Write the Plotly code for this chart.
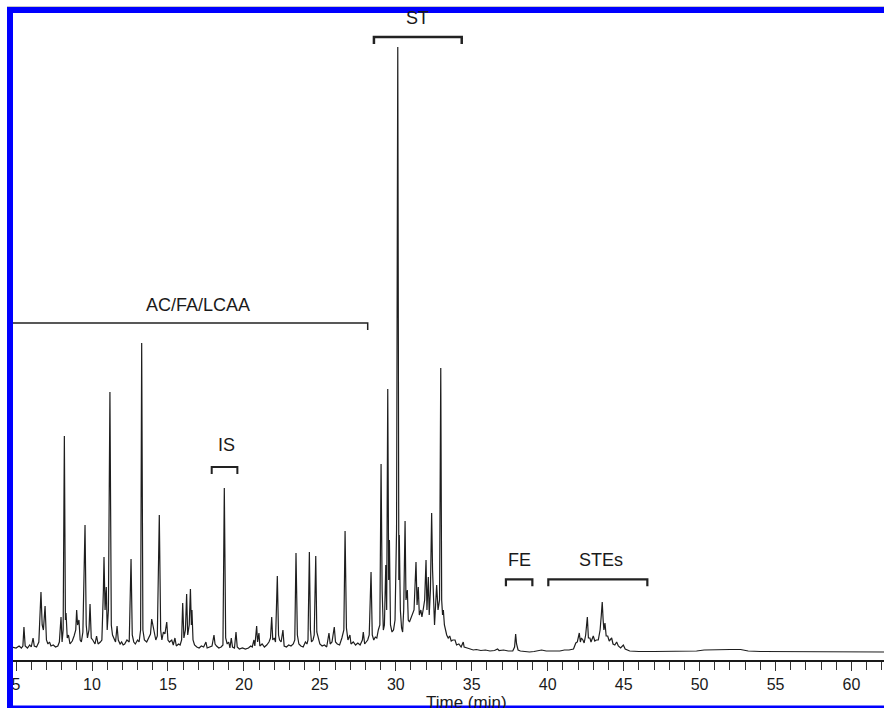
import plotly.graph_objects as go

# Chromatogram trace (retention time in min, detector response, arbitrary units)
time_min = [
    4.73, 5.0, 5.2, 5.35, 5.45, 5.52, 5.6, 5.75, 5.9, 6.0, 6.12, 6.2, 6.35, 6.5, 6.64, 6.72, 6.8, 6.91, 7.0, 7.1,
    7.2, 7.3, 7.45, 7.6, 7.75, 7.85, 7.96, 8.03, 8.1, 8.18, 8.25, 8.29, 8.37, 8.45, 8.55, 8.7, 8.82, 8.93, 8.99, 9.05,
    9.14, 9.22, 9.3, 9.4, 9.54, 9.62, 9.7, 9.8, 9.87, 9.95, 10.05, 10.2, 10.3, 10.4, 10.55, 10.65, 10.75, 10.79, 10.86, 10.94,
    11.0, 11.08, 11.18, 11.27, 11.35, 11.45, 11.55, 11.65, 11.73, 11.85, 11.95, 12.05, 12.15, 12.3, 12.45, 12.57, 12.65, 12.75, 12.85, 13.0,
    13.1, 13.2, 13.27, 13.35, 13.45, 13.6, 13.75, 13.85, 13.93, 14.0, 14.1, 14.2, 14.3, 14.43, 14.52, 14.6, 14.7, 14.8, 14.92, 15.0,
    15.1, 15.25, 15.35, 15.46, 15.55, 15.7, 15.8, 15.9, 15.97, 16.05, 16.15, 16.23, 16.3, 16.4, 16.48, 16.54, 16.58, 16.65, 16.75, 16.9,
    17.05, 17.2, 17.35, 17.5, 17.58, 17.75, 17.9, 18.03, 18.1, 18.2, 18.35, 18.5, 18.62, 18.71, 18.8, 18.9, 19.0, 19.08, 19.17, 19.25,
    19.38, 19.48, 19.56, 19.7, 19.9, 20.1, 20.3, 20.45, 20.55, 20.66, 20.72, 20.84, 20.9, 20.99, 21.05, 21.2, 21.35, 21.5, 21.65, 21.75,
    21.83, 21.9, 22.0, 22.08, 22.2, 22.28, 22.35, 22.45, 22.57, 22.65, 22.8, 22.95, 23.1, 23.25, 23.35, 23.43, 23.52, 23.62, 23.75, 23.9,
    24.05, 24.15, 24.22, 24.31, 24.38, 24.45, 24.55, 24.63, 24.73, 24.8, 24.9, 25.0, 25.15, 25.3, 25.45, 25.55, 25.6, 25.68, 25.8, 25.95,
    26.03, 26.15, 26.3, 26.45, 26.58, 26.66, 26.75, 26.85, 26.98, 27.05, 27.2, 27.35, 27.5, 27.65, 27.8, 27.86, 27.95, 28.05, 28.15, 28.25,
    28.37, 28.45, 28.55, 28.65, 28.75, 28.85, 28.95, 29.03, 29.1, 29.18, 29.25, 29.34, 29.4, 29.47, 29.53, 29.58, 29.65, 29.75, 29.85, 29.95,
    30.05, 30.13, 30.2, 30.23, 30.3, 30.38, 30.45, 30.52, 30.61, 30.67, 30.76, 30.82, 30.9, 31.0, 31.1, 31.2, 31.33, 31.4, 31.48, 31.55,
    31.65, 31.72, 31.82, 31.9, 31.99, 32.05, 32.14, 32.2, 32.28, 32.36, 32.42, 32.48, 32.55, 32.62, 32.69, 32.78, 32.88, 32.96, 33.02, 33.08,
    33.13, 33.2, 33.35, 33.45, 33.55, 33.65, 33.75, 33.9, 34.0, 34.15, 34.3, 34.44, 34.5, 34.7, 34.9, 35.1, 35.3, 35.6, 35.9, 36.2,
    36.5, 36.7, 36.8, 37.1, 37.4, 37.7, 37.82, 37.89, 37.95, 38.05, 38.2, 38.5, 38.8, 39.1, 39.3, 39.6, 39.9, 40.2, 40.5, 40.8,
    41.1, 41.4, 41.7, 41.85, 41.95, 42.08, 42.15, 42.22, 42.32, 42.4, 42.5, 42.61, 42.68, 42.78, 42.85, 43.0, 43.1, 43.2, 43.33, 43.45,
    43.53, 43.59, 43.65, 43.7, 43.77, 43.85, 43.95, 44.05, 44.21, 44.3, 44.42, 44.54, 44.65, 44.8, 44.98, 45.1, 45.4, 46.0, 47.0, 48.0,
    49.0, 49.8, 50.3, 51.0, 52.0, 52.7, 53.2, 54.0, 55.0, 56.0, 57.0, 58.0, 59.0, 60.0, 61.0, 62.14,
]
response = [
    3, 2, 4, 2, 4, 23, 4, 2, 5, 3, 12, 4, 3, 8, 58, 25, 20, 44, 10, 6,
    8, 4, 5, 3, 4, 8, 33, 8, 20, 214, 30, 37, 12, 15, 6, 9, 14, 20, 40, 25,
    30, 10, 8, 18, 125, 25, 12, 20, 46, 12, 10, 6, 14, 6, 8, 10, 60, 93, 40, 63,
    20, 40, 258, 25, 15, 12, 8, 24, 10, 6, 8, 5, 6, 10, 8, 91, 15, 8, 6, 10,
    8, 20, 307, 20, 10, 8, 12, 16, 31, 25, 20, 10, 14, 135, 20, 10, 18, 16, 28, 10,
    8, 10, 5, 12, 4, 6, 5, 10, 47, 12, 20, 56, 15, 25, 61, 25, 40, 10, 5, 3,
    2, 4, 3, 8, 2, 3, 4, 15, 6, 4, 2, 3, 5, 162, 12, 6, 8, 2, 12, 3,
    2, 18, 3, 1, 2, 1, 2, 4, 3, 10, 4, 24, 8, 17, 4, 6, 3, 5, 8, 12,
    33, 10, 12, 8, 74, 15, 10, 8, 20, 4, 3, 5, 4, 6, 10, 97, 15, 6, 4, 3,
    8, 6, 10, 98, 20, 8, 10, 15, 94, 18, 10, 6, 4, 5, 3, 10, 17, 6, 8, 23,
    8, 6, 5, 12, 20, 119, 22, 10, 15, 6, 8, 5, 7, 5, 10, 18, 6, 8, 10, 15,
    78, 15, 10, 13, 12, 20, 25, 186, 60, 20, 25, 85, 40, 261, 70, 110, 25, 18, 20, 30,
    120, 603, 70, 115, 40, 22, 18, 40, 129, 50, 60, 30, 28, 32, 35, 40, 88, 45, 63, 35,
    40, 33, 42, 50, 90, 40, 73, 35, 60, 137, 80, 40, 25, 45, 65, 40, 50, 282, 50, 35,
    40, 25, 15, 12, 14, 9, 10, 10, 5, 6, 3, 8, 3, 2, 1, 0, 0.5, -0.5, 0, -1,
    -0.5, 1, -0.5, 0, -1, -1, 3, 16, 6, 0, -1, -1.5, -2, -1.5, -1, 0, -1, -1, -0.5, -1,
    0, 0, 1, 7, 8, 17, 8, 12, 10, 7, 15, 33, 12, 12, 8, 14, 9, 10, 10, 20,
    35, 48, 30, 20, 27, 14, 14, 9, 12, 6, 5, 8, 4, 2, 5, 1, -1, -1.5, -1.5, -1.5,
    -1.5, -1, 0, 0.5, 0.5, 0.5, -1, -1.5, -1.5, -1.5, -1.5, -1.5, -2, -2, -2, -2,
]

# Group brackets: label, start time, end time, bracket level, label position
group_labels = ["AC/FA/LCAA", "IS", "ST", "FE", "STEs"]
group_start = [4.73, 17.88, 28.56, 37.25, 40.04]
group_end = [28.15, 19.57, 34.34, 38.99, 46.56]
group_level = [327, 183, 613, 70.7, 70.7]
group_text_x = [16.98, 18.87, 31.4, 38.13, 43.51]
group_text_level = [345, 205, 632, 90, 90]

fig = go.Figure()
fig.add_trace(go.Scatter(
    x=time_min, y=response, mode="lines",
    line=dict(color="#1e1e1e", width=1.2), showlegend=False, hoverinfo="skip",
))

font_family = "Liberation Sans, Arial, sans-serif"
widths = [1.5, 2, 2.5, 2.2, 2.2]
for lab, s, e, lev, tx, tl, w in zip(group_labels, group_start, group_end, group_level,
                                     group_text_x, group_text_level, widths):
    drop = 7
    fig.add_shape(type="path",
                  path=f"M {s},{lev - drop} L {s},{lev} L {e},{lev} L {e},{lev - drop}",
                  xref="x", yref="y", line=dict(color="#222222", width=w))
    fig.add_annotation(x=tx, y=tl, xref="x", yref="y", text=lab, showarrow=False,
                       font=dict(family=font_family, size=18, color="#1a1a1a"),
                       xanchor="center", yanchor="middle")

# Axis title
fig.add_annotation(x=(466 - 12) / 872, y=(660 - 702.5) / 660, xref="paper", yref="paper",
                   text="Time (min)", showarrow=False, xanchor="center", yanchor="middle",
                   font=dict(family=font_family, size=17, color="#1a1a1a"))

# Blue frame
blue = "#0000ff"
fig.add_shape(type="rect", xref="paper", yref="paper",
              x0=(7 - 12) / 872, x1=(13 - 12) / 872, y0=(660 - 708) / 660, y1=(660 - 7) / 660,
              fillcolor=blue, line=dict(width=0), layer="above")
fig.add_shape(type="rect", xref="paper", yref="paper",
              x0=(7 - 12) / 872, x1=1.0, y0=(660 - 13) / 660, y1=(660 - 7) / 660,
              fillcolor=blue, line=dict(width=0), layer="above")
fig.add_shape(type="rect", xref="paper", yref="paper",
              x0=(7 - 12) / 872, x1=1.0, y0=(660 - 708) / 660, y1=(660 - 705.5) / 660,
              fillcolor=blue, line=dict(width=0), layer="above")
fig.add_shape(type="line", xref="paper", yref="paper",
              x0=(7 - 12) / 872, x1=1.0, y0=(660 - 6.5) / 660, y1=(660 - 6.5) / 660,
              line=dict(color="#c8c8c8", width=1), layer="above")

fig.update_layout(
    width=884, height=708,
    margin=dict(l=12, r=0, t=0, b=48),
    paper_bgcolor="white", plot_bgcolor="white",
    showlegend=False,
    xaxis=dict(
        range=[4.733, 62.14], showgrid=False, zeroline=False,
        showline=True, linecolor="#1a1a1a", linewidth=1.6,
        ticks="outside", ticklen=9, tickwidth=1.2, tickcolor="#333333",
        tick0=5, dtick=5,
        minor=dict(ticks="outside", ticklen=8, tickwidth=1.2, tickcolor="#333333", dtick=1, showgrid=False),
        tickfont=dict(family=font_family, size=16, color="#1a1a1a"),
    ),
    yaxis=dict(range=[-10, 650], visible=False, showgrid=False, zeroline=False),
)

fig.write_html("out.html", config={"displayModeBar": False},
               post_script="document.body.style.margin='0px';document.body.style.padding='0px';")
